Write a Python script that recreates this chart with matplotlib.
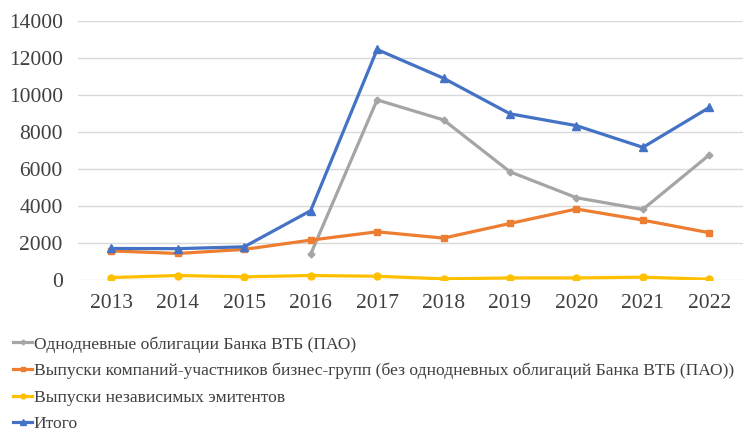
import numpy as np
import matplotlib.pyplot as plt

plt.rcParams['font.family'] = ['Liberation Serif', 'DejaVu Serif']

# ====== Данные ======
years = [2013, 2014, 2015, 2016, 2017, 2018, 2019, 2020, 2021, 2022]

# однодневные облигации появляются только с 2016 года
vtb_oneday = [np.nan, np.nan, np.nan, 1400, 9730, 8650, 5850, 4450, 3820, 6760]
group_issues = [1580, 1440, 1660, 2160, 2610, 2270, 3060, 3840, 3240, 2560]
independent = [140, 250, 180, 250, 210, 70, 120, 120, 160, 50]
total = [1710, 1700, 1800, 3750, 12450, 10900, 8980, 8340, 7170, 9320]

labels = [
    'Однодневные облигации Банка ВТБ (ПАО)',
    'Выпуски компаний-участников бизнес-групп (без однодневных облигаций Банка ВТБ (ПАО))',
    'Выпуски независимых эмитентов',
    'Итого',
]
yticks = [0, 2000, 4000, 6000, 8000, 10000, 12000, 14000]

# ====== Рисунок ======
fig = plt.figure(figsize=(7.44, 4.33), dpi=100)
ax = fig.add_axes([0.105, 0.353, 0.893, 0.599])

x = np.arange(len(years))
lines = []
lines += ax.plot(x, vtb_oneday, color='#A5A5A5', lw=2.3, marker='D', ms=3.5)
lines += ax.plot(x, group_issues, color='#ED7D31', lw=2.3, marker='s', ms=5)
lines += ax.plot(x, independent, color='#FFC000', lw=2.3, marker='o', ms=5)
lines += ax.plot(x, total, color='#4472C4', lw=2.3, marker='^', ms=5.5)

ax.set_xlim(-0.5, len(years) - 0.5)
ax.set_ylim(0, 14000)
ax.set_yticks(yticks)
ax.set_xticks(x)
ax.set_xticklabels([str(y) for y in years])
ax.tick_params(length=0, labelsize=15.5, colors='#404040')
ax.tick_params(axis='x', pad=10)
ax.tick_params(axis='y', pad=11)
ax.grid(axis='y', color='#D9D9D9', lw=1)
ax.set_axisbelow(True)
for s in ax.spines.values():
    s.set_visible(False)

fig.legend(lines, labels, loc='upper left', bbox_to_anchor=(0.008, 0.24),
           frameon=False, fontsize=12.6, handlelength=1.1, handletextpad=0.1,
           labelspacing=0.58, labelcolor='#404040', borderaxespad=0,
           markerscale=0.7)

plt.savefig('out.png', dpi=100)
